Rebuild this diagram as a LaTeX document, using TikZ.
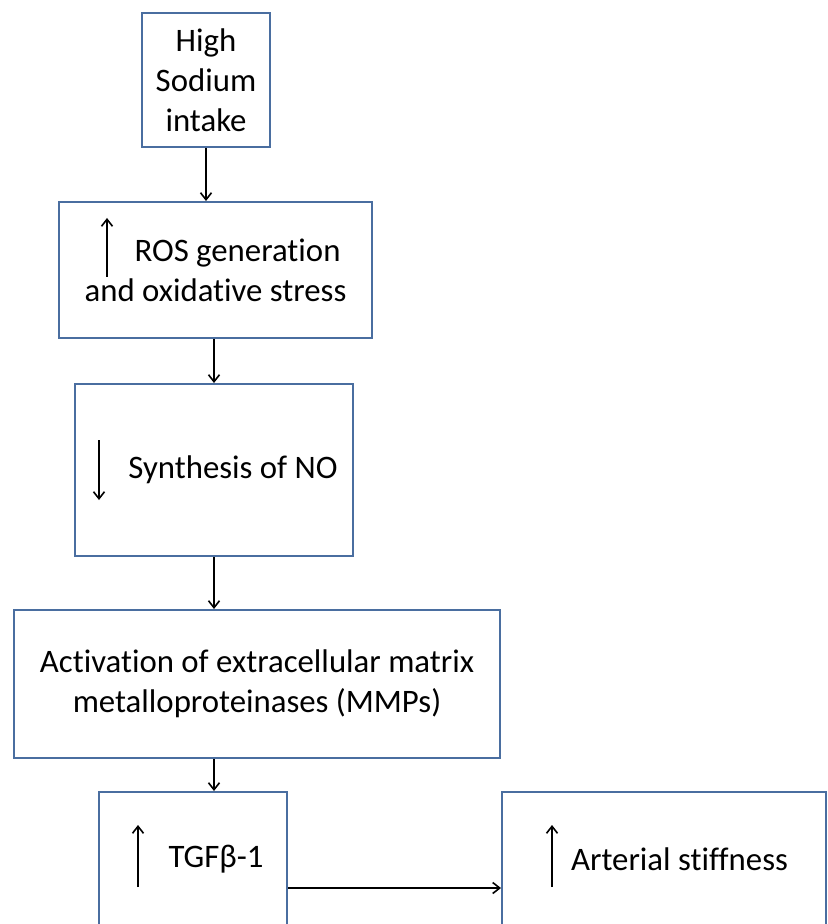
\documentclass[tikz,border=0pt]{standalone}
\usepackage{fontspec}
\setmainfont{Carlito}[Ligatures=NoCommon]
\usetikzlibrary{arrows.meta}
\definecolor{boxblue}{RGB}{74,110,160}

\begin{document}
\begin{tikzpicture}[x=0.5pt, y=-0.5pt,
  box/.style={draw=boxblue, line width=1pt, fill=white, align=center, anchor=north west, inner sep=0pt, font=\fontsize{16.4}{20}\selectfont},
  arr/.style={-{Straight Barb[length=3.5pt, width=5.5pt]}, line width=0.8pt}]
\clip (0,0) rectangle (827,924);
\node[box, minimum width=64pt, minimum height=67pt] (sodium) at (141,12) {High\\Sodium\\intake};
\node[box, minimum width=156.5pt, minimum height=68pt] (ros) at (58,201) {\hspace*{22pt}ROS generation\\and oxidative stress};
\node[box, minimum width=139pt, minimum height=86pt] (nos) at (74,383) {\hspace*{19pt}Synthesis of NO};
\node[box, minimum width=243pt, minimum height=74pt] (mmp) at (13,609) {Activation of extracellular matrix\\metalloproteinases (MMPs)};
\node[box, minimum width=94pt, minimum height=67pt] (tgf) at (98,791) {\hspace*{23pt}TGFβ-1};
\node[box, minimum width=162pt, minimum height=67pt] (stiff) at (501,791) {\hspace*{15.5pt}Arterial stiffness};
% up / down marks inside the boxes
\draw[arr] ([shift={(49,76)}]ros.north west) -- ([shift={(49,17)}]ros.north west);
\draw[arr] ([shift={(25,57)}]nos.north west) -- ([shift={(25,117)}]nos.north west);
\draw[arr] ([shift={(40,96)}]tgf.north west) -- ([shift={(40,34)}]tgf.north west);
\draw[arr] ([shift={(51,96)}]stiff.north west) -- ([shift={(51,34)}]stiff.north west);
% flow
\draw[arr] (sodium.south) -- (sodium.south |- ros.north);
\draw[arr] (nos.north |- ros.south) -- (nos.north);
\draw[arr] (nos.south) -- (nos.south |- mmp.north);
\draw[arr] (nos.south |- mmp.south) -- (nos.south |- tgf.north);
\draw[arr] ([yshift=-14.5pt]tgf.east) -- ([yshift=-14.5pt]stiff.west);
\end{tikzpicture}
\end{document}
